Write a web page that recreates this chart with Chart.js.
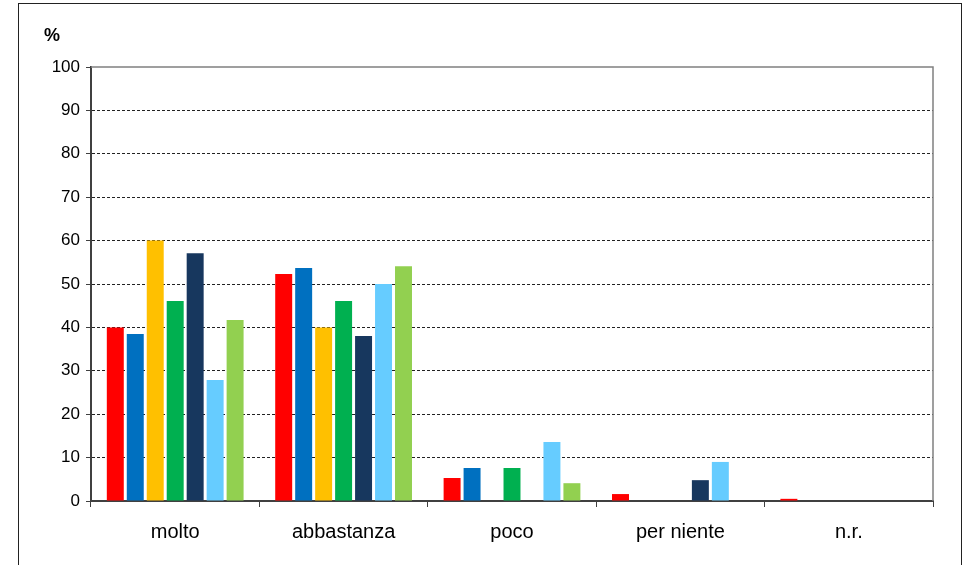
<!DOCTYPE html>
<html>
<head>
<meta charset="utf-8">
<script src="https://cdn.jsdelivr.net/npm/chart.js@4"></script>
<style>
    body { margin: 0; background: #fff; }
    #wrap { position: relative; width: 968px; height: 565px; overflow: hidden; }
    #frame { position: absolute; left: 18px; top: 3px; width: 944px; height: 600px;
             border: 1.5px solid #222; box-sizing: border-box; }
    canvas { position: absolute; left: 0; top: 0; }
</style>
</head>
<body>
<div id="wrap">
    <div id="frame"></div>
    <canvas id="chart" width="968" height="565"></canvas>
</div>
<script>
(function () {
    'use strict';

    // ── Data ────────────────────────────────────────────────────────────────
    const categories = ['molto', 'abbastanza', 'poco', 'per niente', 'n.r.'];
    const yTicks = [0, 10, 20, 30, 40, 50, 60, 70, 80, 90, 100];

    const s1 = [40.0, 52.3, 5.3, 1.6, 0.5];
    const s2 = [38.5, 53.7, 7.6, 0, 0];
    const s3 = [60.0, 40.0, 0, 0, 0];
    const s4 = [46.1, 46.1, 7.6, 0, 0];
    const s5 = [57.1, 38.0, 0, 4.8, 0];
    const s6 = [27.9, 50.0, 13.6, 9.0, 0];
    const s7 = [41.7, 54.1, 4.1, 0, 0];

    const COLORS = ['#FF0000', '#0070C0', '#FFC000', '#00B050', '#17375E', '#66CCFF', '#92D050'];
    const series = [s1, s2, s3, s4, s5, s6, s7];

    const FONT = 'Liberation Sans, Arial, sans-serif';
    Chart.defaults.font.family = FONT;
    Chart.defaults.color = '#000';

    // ── Frame lines and "%" label ───────────────────────────────────────────
    const framePlugin = {
        id: 'frameLines',
        afterDraw(chart) {
            const { ctx, chartArea: a } = chart;
            ctx.save();
            ctx.strokeStyle = '#808080';
            ctx.lineWidth = 1.5;
            ctx.beginPath();
            ctx.moveTo(a.left, a.top);
            ctx.lineTo(a.right, a.top);
            ctx.lineTo(a.right, a.bottom);
            ctx.stroke();
            ctx.fillStyle = '#000';
            ctx.font = 'bold 18px ' + FONT;
            ctx.textBaseline = 'middle';
            ctx.fillText('%', 44, 36);
            ctx.restore();
        }
    };

    new Chart(document.getElementById('chart'), {
        type: 'bar',
        data: {
            labels: categories,
            datasets: series.map((d, i) => ({
                label: 'S' + (i + 1),
                data: d,
                backgroundColor: COLORS[i],
                borderWidth: 0,
                categoryPercentage: 0.83,
                barPercentage: 0.85,
            }))
        },
        options: {
            responsive: false,
            animation: false,
            layout: { padding: { left: 0, right: 35, top: 67, bottom: 0 } },
            plugins: {
                legend: { display: false },
                tooltip: { enabled: false },
            },
            scales: {
                x: {
                    grid: {
                        offset: true,
                        drawOnChartArea: false,
                        drawTicks: true,
                        tickLength: 6,
                        color: '#404040',
                    },
                    border: { color: '#404040', width: 2 },
                    ticks: { font: { size: 20 }, padding: 13, color: '#000' },
                    afterFit: s => { s.height = 64; },
                },
                y: {
                    min: 0,
                    max: 100,
                    afterBuildTicks: s => { s.ticks = yTicks.map(v => ({ value: v })); },
                    grid: {
                        color: ctx => (ctx.tick && (ctx.tick.value === 0 || ctx.tick.value === 100)) ? 'rgba(0,0,0,0)' : '#222',
                        tickColor: '#404040',
                        lineWidth: 1,
                        tickLength: 5,
                    },
                    border: { color: '#404040', width: 2, dash: [3, 2] },
                    ticks: { font: { size: 17 }, padding: 6, color: '#000' },
                    afterFit: s => { s.width = 91; },
                }
            }
        },
        plugins: [framePlugin]
    });
})();
</script>
</body>
</html>
